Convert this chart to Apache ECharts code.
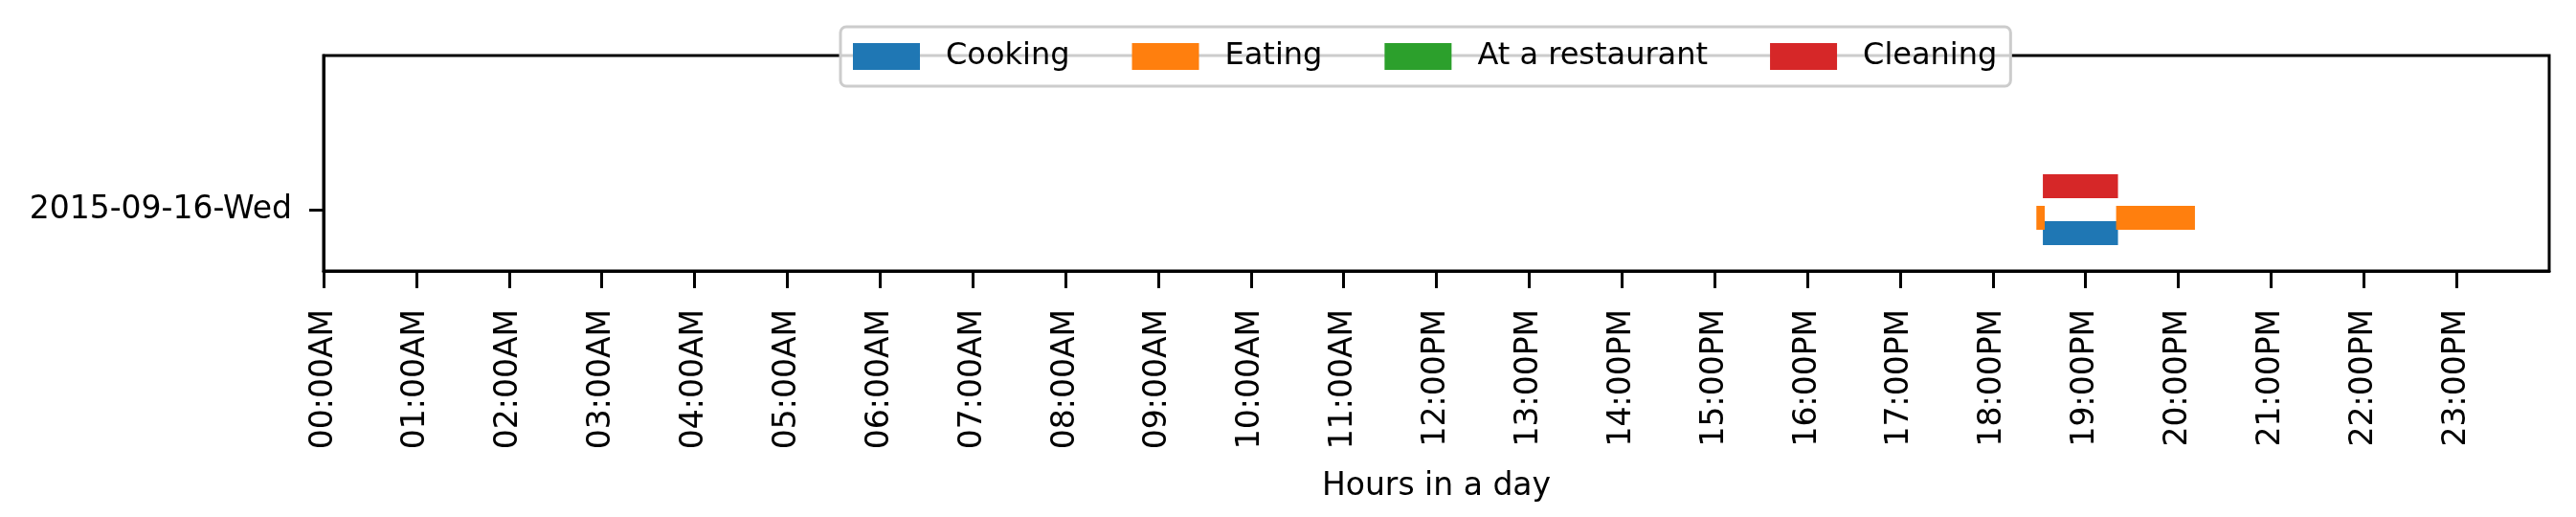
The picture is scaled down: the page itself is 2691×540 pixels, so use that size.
<!DOCTYPE html>
<html><head><meta charset="utf-8">
<script src="https://cdn.jsdelivr.net/npm/echarts@6/dist/echarts.min.js"></script>
<style>html,body{margin:0;padding:0;background:#fff}#c{width:2691px;height:540px}</style>
</head><body><div id="c"></div>
<script>
const activities = ['Cooking', 'Eating', 'At a restaurant', 'Cleaning'];
const colors = ['#1f77b4', '#ff7f0e', '#2ca02c', '#d62728'];
const dayLabel = '2015-09-16-Wed';
// intervals in hours: [start, end]
const cookingIntervals = [[18.54, 19.35]];
const eatingIntervals = [[18.47, 18.56], [19.33, 20.18]];
const restaurantIntervals = [];
const cleaningIntervals = [[18.54, 19.35]];
// vertical band of each activity [bottom, top] in y units
const bands = [[1.08, 2.08], [1.72, 2.72], [2.4, 3.4], [3.04, 4.04]];
const dayTick = 2.56;
const hourTicks = Array.from({length: 24}, (_, i) => i);

const allIntervals = [cookingIntervals, eatingIntervals, restaurantIntervals, cleaningIntervals];
function fmt(h) {
  return String(h).padStart(2, '0') + ':00' + (h >= 12 ? 'PM' : 'AM');
}
const font = 'DejaVu Sans';
const series = activities.map((name, k) => ({
  name, type: 'custom', itemStyle: {color: colors[k]},
  data: allIntervals[k].map(iv => [iv[0], iv[1], bands[k][0], bands[k][1]]),
  renderItem: (params, api) => {
    const p0 = api.coord([api.value(0), api.value(3)]);
    const p1 = api.coord([api.value(1), api.value(2)]);
    return {type: 'rect', shape: {x: p0[0], y: p0[1], width: p1[0] - p0[0], height: p1[1] - p0[1]},
      style: {fill: colors[k]}};
  },
  encode: {x: [0, 1], y: [2, 3]}
}));
const chart = echarts.init(document.getElementById('c'));
chart.setOption({
  animation: false,
  grid: {left: 338, right: 28, top: 58, bottom: 257, show: true, borderColor: '#000', borderWidth: 3},
  legend: {
    data: activities, left: 878, top: 28, orient: 'horizontal',
    itemWidth: 70, itemHeight: 28, itemGap: 65, icon: 'rect',
    padding: [15, 14, 15, 13],
    backgroundColor: 'rgba(255,255,255,0.8)', borderColor: '#cccccc', borderWidth: 3, borderRadius: 6,
    textStyle: {fontFamily: font, fontSize: 32, color: '#000', padding: [0, 0, 0, 22]}
  },
  xAxis: {
    type: 'value', min: 0, max: 24, interval: 1,
    name: 'Hours in a day', nameLocation: 'middle', nameGap: 209,
    nameTextStyle: {fontFamily: font, fontSize: 33, color: '#000'},
    axisLine: {lineStyle: {color: '#000', width: 3}},
    axisTick: {show: true, length: 18, lineStyle: {color: '#000', width: 3},
      customValues: hourTicks},
    axisLabel: {rotate: 90, margin: 40, fontFamily: font, fontSize: 33, color: '#000',
      customValues: hourTicks, formatter: v => fmt(v)},
    splitLine: {show: false}
  },
  yAxis: {
    type: 'value', min: 0, max: 9,
    axisLine: {show: true, lineStyle: {color: '#000', width: 3}},
    axisTick: {show: true, length: 15, lineStyle: {color: '#000', width: 3}, customValues: [dayTick]},
    axisLabel: {margin: 33, fontFamily: font, fontSize: 33, color: '#000', customValues: [dayTick],
      formatter: () => dayLabel},
    splitLine: {show: false}
  },
  series
});
</script></body></html>
